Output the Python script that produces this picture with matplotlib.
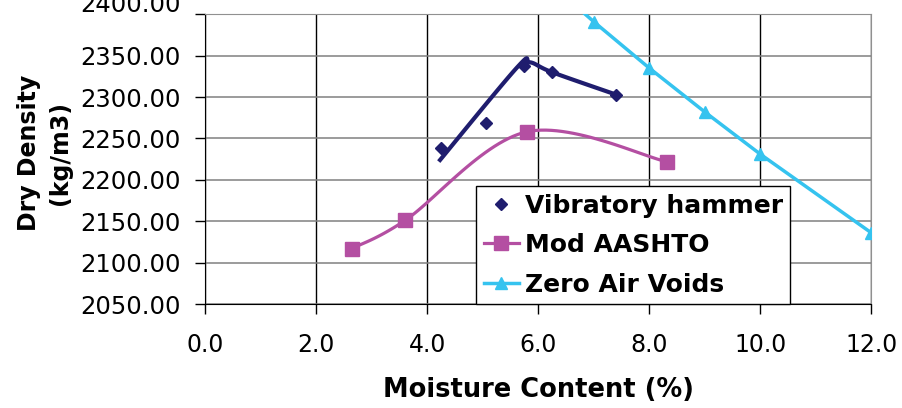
import numpy as np
import matplotlib
matplotlib.use('Agg')
import matplotlib.pyplot as plt
from matplotlib.transforms import offset_copy

# values
vib_x = [4.25, 5.05, 5.75, 6.25, 7.40]
vib_y = [2238, 2269, 2337, 2330, 2303]
# fitted line drawn through the vibratory hammer data (no legend entry)
vib_fit_x = [4.23, 5.62, 5.85, 6.25, 7.40]
vib_fit_y = [2224, 2336, 2342, 2330, 2303]

aashto_x = [2.64, 3.60, 5.79, 8.31]
aashto_y = [2117, 2151, 2258, 2222]

zav_x = [6.0, 7.0, 8.0, 9.0, 10.0, 12.0]
zav_y = [2450, 2391, 2335, 2282, 2231, 2136]

NAVY = '#1f1d6e'
MAGENTA = '#b44fa2'
CYAN = '#35c3ef'


def smooth(xs, ys, n=30):
    # Excel-style smoothed line: cubic bezier with catmull-rom control points
    p = np.column_stack([xs, ys]).astype(float)
    out = [p[0]]
    for i in range(len(p) - 1):
        p0 = p[i - 1] if i > 0 else p[i]
        p3 = p[i + 2] if i + 2 < len(p) else p[i + 1]
        c1 = p[i] + (p[i + 1] - p0) / 6
        c2 = p[i + 1] - (p3 - p[i]) / 6
        t = np.linspace(0, 1, n)[1:, None]
        seg = ((1 - t) ** 3 * p[i] + 3 * (1 - t) ** 2 * t * c1
               + 3 * (1 - t) * t ** 2 * c2 + t ** 3 * p[i + 1])
        out.extend(seg)
    out = np.array(out)
    return out[:, 0], out[:, 1]


plt.rcParams['font.family'] = 'DejaVu Sans'

fig = plt.figure(figsize=(9.02, 4.08), dpi=100)
ax = fig.add_axes([205.3 / 902, 1 - 304 / 408, 666 / 902, (304 - 14.3) / 408])

fx, fy = smooth(vib_fit_x, vib_fit_y)
ax.plot(fx, fy, color=NAVY, lw=3.0, zorder=3)
ax.plot(vib_x, vib_y, ls='none', marker='D', ms=6, color=NAVY,
        label='Vibratory hammer', zorder=4)

sx, sy = smooth(aashto_x, aashto_y)
ax.plot(sx, sy, color=MAGENTA, lw=2.3, zorder=3)
ax.plot(aashto_x, aashto_y, ls='none', marker='s', ms=10, color=MAGENTA, zorder=4)
ax.plot([], [], color=MAGENTA, lw=2.3, marker='s', ms=10, label='Mod AASHTO')

ax.plot(zav_x, zav_y, color=CYAN, lw=2.5, marker='^', ms=8,
        label='Zero Air Voids', zorder=3)

YMIN, YMAX = 2050, 2400
ax.set_xlim(0, 12)
ax.set_ylim(YMIN, YMAX)
ax.set_xticks(np.arange(0, 12.1, 2))
ax.set_yticks(np.arange(YMIN, YMAX + 1, 50))
ax.xaxis.set_major_formatter(matplotlib.ticker.FormatStrFormatter('%.1f'))
# top label sits higher (cut by the image edge), drawn separately below
ax.yaxis.set_major_formatter(matplotlib.ticker.FuncFormatter(
    lambda v, p: '' if v >= YMAX else f'{v:.2f}'))
ax.tick_params(axis='both', labelsize=17, direction='out', length=7, width=1, color='black')
ax.tick_params(axis='x', pad=14)
ax.tick_params(axis='y', pad=11, labelsize=17.5)
trans = offset_copy(ax.get_yaxis_transform(), fig=fig, x=-18, y=6.5, units='points')
ax.text(0, YMAX, f'{YMAX:.2f}', transform=trans, ha='right', va='center', fontsize=17.5)

ax.grid(axis='y', color='#808080', lw=1.1)
ax.grid(axis='x', color='black', lw=1.0)
ax.set_axisbelow(True)
for s in ['top', 'right']:
    ax.spines[s].set_color('#909090')
for s in ['left', 'bottom']:
    ax.spines[s].set_color('black')

ax.set_xlabel('Moisture Content (%)', fontsize=18.5, fontweight='bold', labelpad=14)
ax.set_ylabel('Dry Density\n(kg/m3)', fontsize=17, fontweight='bold',
              linespacing=1.35)
ax.yaxis.set_label_coords(-0.200, 0.52)

leg = ax.legend(loc='lower left', bbox_to_anchor=(0.4065, 0.0), borderaxespad=0,
                prop={'size': 18, 'weight': 'bold'}, fancybox=False, framealpha=1,
                edgecolor='black', handlelength=1.4, handletextpad=0.25,
                labelspacing=0.62, borderpad=0.3)
leg.get_frame().set_linewidth(1.0)
leg.set_zorder(5)

fig.savefig('out.png', dpi=100)
